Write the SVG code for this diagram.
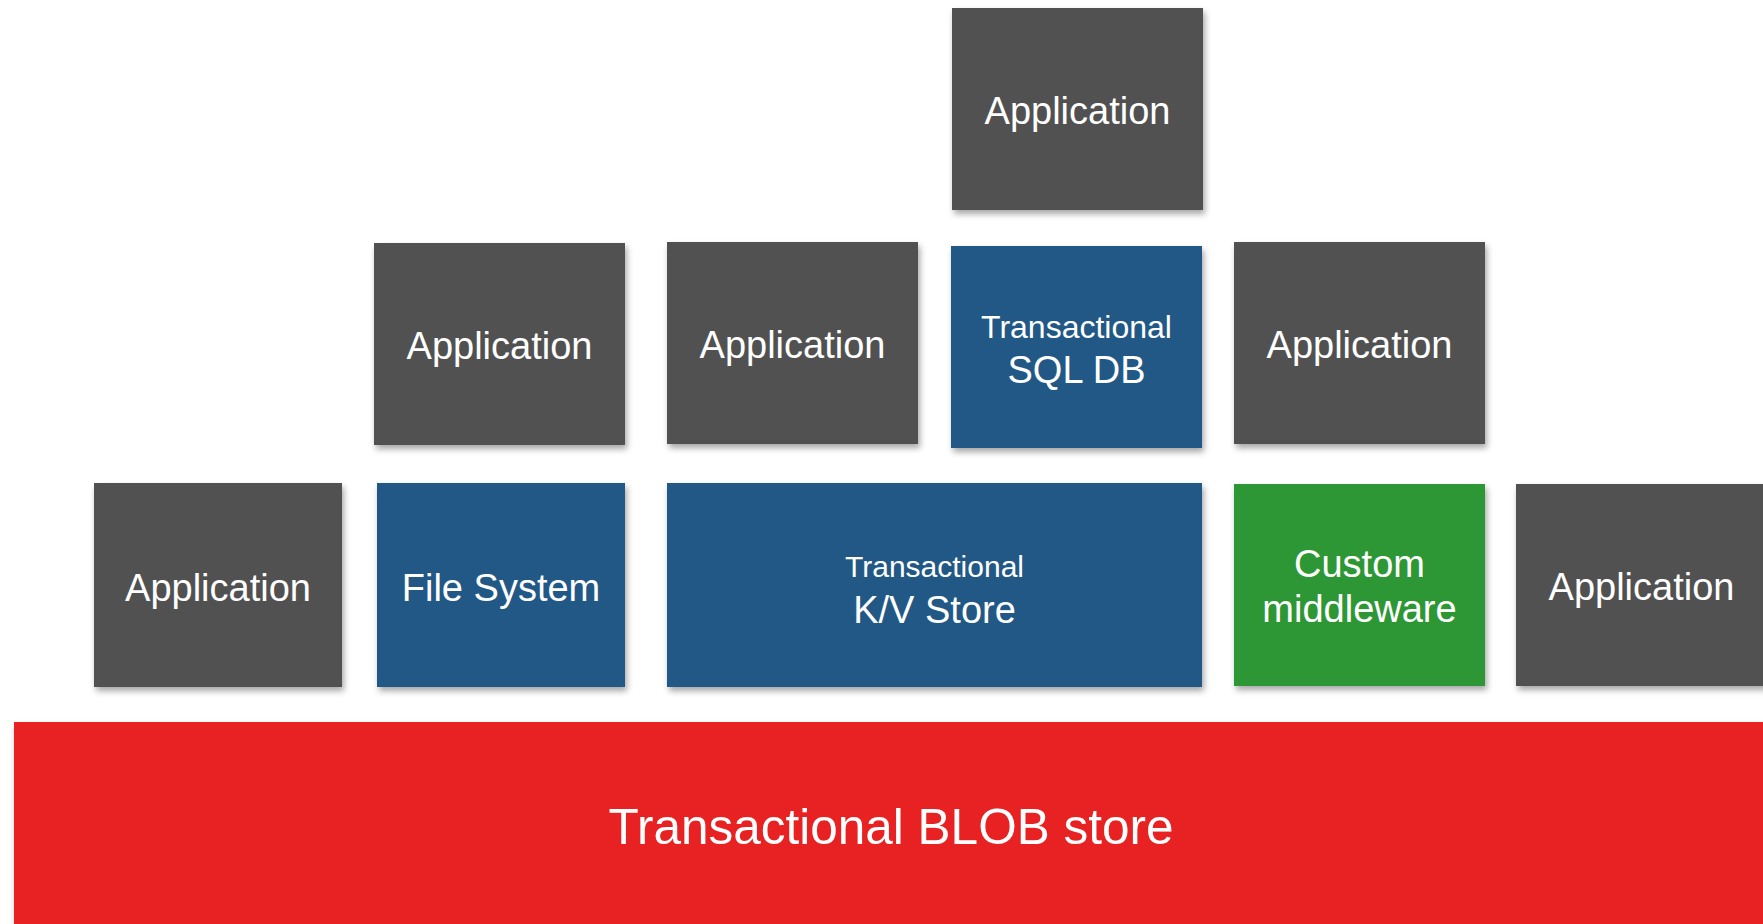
<svg xmlns="http://www.w3.org/2000/svg" width="1763" height="924" viewBox="0 0 1763 924">
<style>
.app{fill:#515151}
.blue{fill:#235985}
.green{fill:#2E9736}
.red{fill:#E82122}
text{font-family:"Liberation Sans",Arial,sans-serif;fill:#FFFFFF;text-anchor:middle}
.l{font-size:38px}
.s32{font-size:32px}
.s30{font-size:30px}
.big{font-size:49.5px}
</style>
<defs>
<filter id="sh" x="-10%" y="-10%" width="125%" height="130%">
<feDropShadow dx="2" dy="4" stdDeviation="3" flood-color="#000" flood-opacity="0.35"/>
</filter>
</defs>
<rect width="1763" height="924" fill="#FFFFFF"/>
<g id="connectors"></g>
<g id="blob">
<rect class="red" x="14" y="722" width="1760" height="210" filter="url(#sh)"/>
<text class="big" x="891" y="844">Transactional BLOB store</text>
</g>
<g id="app-top">
<rect class="app" x="952" y="8" width="251" height="202" filter="url(#sh)"/>
<text class="l" x="1077.5" y="124">Application</text>
</g>
<g id="app-r2-1">
<rect class="app" x="374" y="243" width="251" height="202" filter="url(#sh)"/>
<text class="l" x="499.5" y="359">Application</text>
</g>
<g id="app-r2-2">
<rect class="app" x="667" y="242" width="251" height="202" filter="url(#sh)"/>
<text class="l" x="792.5" y="358">Application</text>
</g>
<g id="sqldb">
<rect class="blue" x="951" y="246" width="251" height="202" filter="url(#sh)"/>
<text class="s32" x="1076.5" y="338">Transactional</text>
<text class="l" x="1076.5" y="383">SQL DB</text>
</g>
<g id="app-r2-3">
<rect class="app" x="1234" y="242" width="251" height="202" filter="url(#sh)"/>
<text class="l" x="1359.5" y="358">Application</text>
</g>
<g id="app-r3-1">
<rect class="app" x="94" y="483" width="248" height="204" filter="url(#sh)"/>
<text class="l" x="218" y="601">Application</text>
</g>
<g id="filesystem">
<rect class="blue" x="377" y="483" width="248" height="204" filter="url(#sh)"/>
<text class="l" x="501" y="601">File System</text>
</g>
<g id="kvstore">
<rect class="blue" x="667" y="483" width="535" height="204" filter="url(#sh)"/>
<text class="s30" x="934.5" y="577">Transactional</text>
<text class="l" x="934.5" y="623">K/V Store</text>
</g>
<g id="middleware">
<rect class="green" x="1234" y="484" width="251" height="202" filter="url(#sh)"/>
<text class="l" x="1359.5" y="577">Custom</text>
<text class="l" x="1359.5" y="622">middleware</text>
</g>
<g id="app-r3-2">
<rect class="app" x="1516" y="484" width="251" height="202" filter="url(#sh)"/>
<text class="l" x="1641.5" y="600">Application</text>
</g>
</svg>
